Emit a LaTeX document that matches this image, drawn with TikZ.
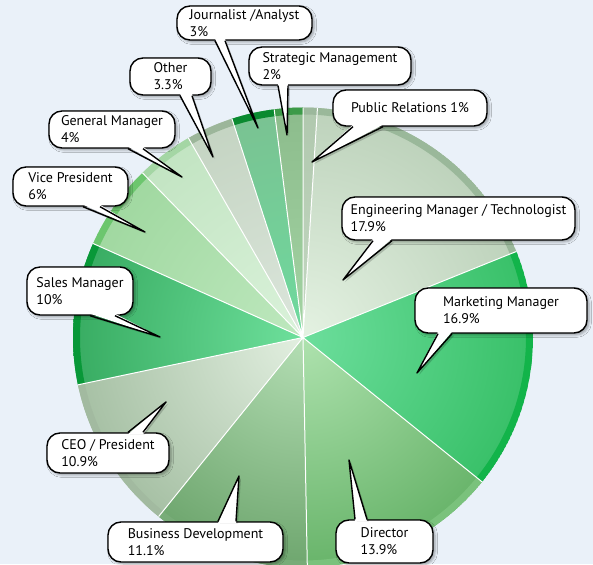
\documentclass[tikz,border=0pt]{standalone}
\usepackage{fontspec}
\setmainfont{PT Sans}
\usetikzlibrary{calc,shadows.blur}

\definecolor{bgblue}{HTML}{EAF1F9}
\definecolor{prIn}{HTML}{C4D8C2}  \definecolor{prOut}{HTML}{B0C8AE}  \definecolor{prRim}{HTML}{9CB89C}
\definecolor{engIn}{HTML}{E4F2E2} \definecolor{engOut}{HTML}{BDD2BB} \definecolor{engRim}{HTML}{9AB89A}
\definecolor{mktIn}{HTML}{6CDE9C} \definecolor{mktOut}{HTML}{38C068} \definecolor{mktRim}{HTML}{12B44A}
\definecolor{dirIn}{HTML}{AEE2AE} \definecolor{dirOut}{HTML}{68B46A} \definecolor{dirRim}{HTML}{7AC27C}
\definecolor{bizIn}{HTML}{B4DEB4} \definecolor{bizOut}{HTML}{6EA66E} \definecolor{bizRim}{HTML}{78AC78}
\definecolor{ceoIn}{HTML}{E2EFE0} \definecolor{ceoOut}{HTML}{A6C0A4} \definecolor{ceoRim}{HTML}{A2BAA0}
\definecolor{salIn}{HTML}{6EE09C} \definecolor{salOut}{HTML}{38AC62} \definecolor{salRim}{HTML}{089838}
\definecolor{vpIn}{HTML}{BEE8BE}  \definecolor{vpOut}{HTML}{A0D8A0}  \definecolor{vpRim}{HTML}{6CC66E}
\definecolor{gmIn}{HTML}{DAF2DA}  \definecolor{gmOut}{HTML}{C2E4C2}  \definecolor{gmRim}{HTML}{A4D6A4}
\definecolor{othIn}{HTML}{DCE6DC} \definecolor{othOut}{HTML}{C4D4C2} \definecolor{othRim}{HTML}{9CB69A}
\definecolor{jouIn}{HTML}{6EDA9E} \definecolor{jouOut}{HTML}{7AC292} \definecolor{jouRim}{HTML}{0A8A30}
\definecolor{strIn}{HTML}{A4D4A4} \definecolor{strOut}{HTML}{8CBC8C} \definecolor{strRim}{HTML}{3C9A48}

\tikzset{
  bubble/.style={draw=black, line width=1.4pt, fill=white, rounded corners=13pt,
    align=left, inner sep=2pt, font=\fontsize{14}{17}\selectfont,
    blur shadow={shadow xshift=2pt, shadow yshift=-2pt, shadow blur radius=2.5pt, shadow opacity=35}},
  ptrline/.style={draw=black, line width=1.4pt, line join=round},
  ptrshade/.style={fill=black, opacity=0.18},
  sep/.style={draw=white, line width=1pt}
}

\newcommand{\pieR}{230}
% slice: start angle, end angle, inner colour, outer colour, rim colour
\newcommand{\pieslice}[5]{%
  \begin{scope}
    \clip (C) -- ++(#1:\pieR) arc[start angle=#1, end angle=#2, radius=\pieR] -- cycle;
    \shade[inner color=#3, outer color=#4] (C) circle[radius=\pieR];
    \fill[#5, even odd rule] (C) circle[radius=\pieR] (C) circle[radius=\pieR-7];
  \end{scope}}
% pointer: box anchor, base shifts, tip, shift into the box
\newcommand{\callptr}[5]{%
  \fill[ptrshade] ([shift={(#2+2,-2)}]#1) -- ([shift={(2,-2)}]#4) -- ([shift={(#3+2,-2)}]#1) -- cycle;
  \fill[white] ([shift={(#2,#5)}]#1) -- (#4) -- ([shift={(#3,#5)}]#1) -- cycle;
  \draw[ptrline] ([xshift=#2]#1) -- (#4) -- ([xshift=#3]#1);}

\begin{document}
\begin{tikzpicture}[x=1pt, y=1pt]
  \useasboundingbox (0,0) rectangle (593,564);
  \fill[bgblue] (0,0) rectangle (593,564);
  \coordinate (C) at (303,226.5);

  % pie, clockwise from the top
  \pieslice{90}{86.4}{prIn}{prOut}{prRim}
  \pieslice{86.4}{21.96}{engIn}{engOut}{engRim}
  \pieslice{21.96}{-38.88}{mktIn}{mktOut}{mktRim}
  \pieslice{-38.88}{-88.92}{dirIn}{dirOut}{dirRim}
  \pieslice{-88.92}{-128.88}{bizIn}{bizOut}{bizRim}
  \pieslice{-128.88}{-168.12}{ceoIn}{ceoOut}{ceoRim}
  \pieslice{-168.12}{-204.12}{salIn}{salOut}{salRim}
  \pieslice{-204.12}{-225.72}{vpIn}{vpOut}{vpRim}
  \pieslice{-225.72}{-240.12}{gmIn}{gmOut}{gmRim}
  \pieslice{-240.12}{-252}{othIn}{othOut}{othRim}
  \pieslice{-252}{-262.8}{jouIn}{jouOut}{jouRim}
  \pieslice{-262.8}{-270}{strIn}{strOut}{strRim}
  \draw[sep] (C) -- ++(90:\pieR) (C) -- ++(86.4:\pieR) (C) -- ++(21.96:\pieR)
    (C) -- ++(-38.88:\pieR) (C) -- ++(-88.92:\pieR) (C) -- ++(-128.88:\pieR)
    (C) -- ++(-168.12:\pieR) (C) -- ++(-204.12:\pieR) (C) -- ++(-225.72:\pieR)
    (C) -- ++(-240.12:\pieR) (C) -- ++(-252:\pieR) (C) -- ++(-262.8:\pieR);

  % callouts
  \node[bubble, minimum width=135, minimum height=34] (jour) at (244.5,541) {Journalist /Analyst\\3\%};
  \coordinate (jourtip) at (258,436);
  \callptr{jour.south}{-29.5}{-19.5}{jourtip}{2}

  \node[bubble, minimum width=162, minimum height=38] (strat) at (330,498) {Strategic Management\\2\%};
  \coordinate (strattip) at (287,429);
  \callptr{strat.south}{-52}{-42}{strattip}{2}

  \node[bubble, minimum width=154, minimum height=36] (pubrel) at (410,456) {Public Relations 1\%};
  \coordinate (pubreltip) at (312,402);
  \callptr{pubrel.south}{-57}{-27}{pubreltip}{2}

  \node[bubble, minimum width=233, minimum height=43] (eng) at (458.5,345.5) {Engineering Manager / Technologist\\17.9\%};
  \coordinate (engtip) at (343,284);
  \callptr{eng.south}{-85.5}{-66.5}{engtip}{2}

  \node[bubble, minimum width=172, minimum height=45] (mkt) at (501,253.5) {Marketing Manager\\16.9\%};
  \coordinate (mkttip) at (417,191);
  \callptr{mkt.south}{-63}{-49}{mkttip}{2}

  \node[bubble, minimum width=97, minimum height=43] (dir) at (384.5,22.5) {Director\\13.9\%};
  \coordinate (dirtip) at (349,104);
  \callptr{dir.north}{-29.5}{-17.5}{dirtip}{-2}

  \node[bubble, minimum width=175, minimum height=40] (bizdev) at (195.5,22) {Business Development\\11.1\%};
  \coordinate (bizdevtip) at (239,88);
  \callptr{bizdev.north}{22.5}{40.5}{bizdevtip}{-2}

  \node[bubble, minimum width=122, minimum height=40] (ceo) at (108,111) {CEO / President\\10.9\%};
  \coordinate (ceotip) at (166,162);
  \callptr{ceo.north}{20}{35}{ceotip}{-2}

  \node[bubble, minimum width=106, minimum height=48] (sales) at (80,273) {Sales Manager\\10\%};
  \coordinate (salestip) at (160,227);
  \callptr{sales.south}{10}{35}{salestip}{2}

  \node[bubble, minimum width=115, minimum height=39] (vp) at (70.5,377.5) {Vice President\\6\%};
  \coordinate (vptip) at (145,332);
  \callptr{vp.south}{12.5}{29.5}{vptip}{2}

  \node[bubble, minimum width=126, minimum height=37] (genman) at (112,434.5) {General Manager\\4\%};
  \coordinate (genmantip) at (182,387);
  \callptr{genman.south}{16}{31}{genmantip}{2}

  \node[bubble, minimum width=81, minimum height=37] (other) at (170.5,487.5) {Other\\3.3\%};
  \coordinate (othertip) at (213,407);
  \callptr{other.south}{9.5}{21.5}{othertip}{2}
\end{tikzpicture}
\end{document}
